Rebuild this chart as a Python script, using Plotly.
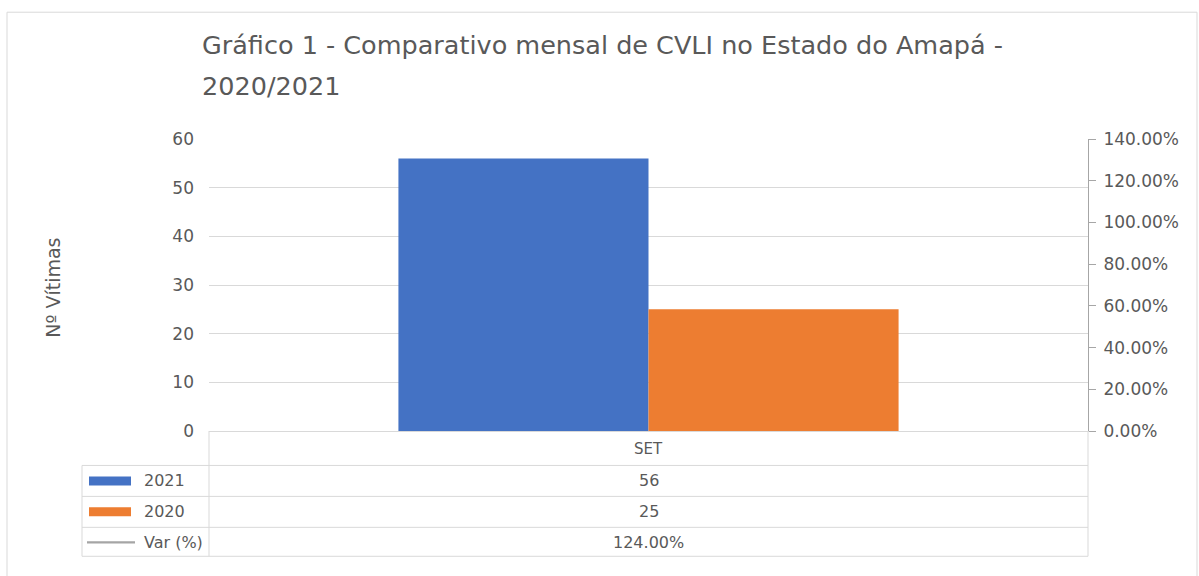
import plotly.graph_objects as go

# ---- data ----
categories = ["SET"]
series_names = ["2021", "2020", "Var (%)"]
vals_2021 = [56]
vals_2020 = [25]
var_pct = [1.24]
title_lines = ["Gráfico 1 - Comparativo mensal de CVLI no Estado do Amapá -", "2020/2021"]
y_title = "Nº Vítimas"

# ---- styling ----
W, H = 1199, 576
PX0, PX1 = 209, 1088       # plot area left/right (px)
PY0, PY1 = 139, 431.5      # plot area top/bottom (px)
BLUE, ORANGE, GRAY = "#4472C4", "#ED7D31", "#A5A5A5"
TXT = "#595959"
GRID = "#d9d9d9"
FONT = "DejaVu Sans"


def px_x(px):
    return (px - PX0) / (PX1 - PX0)


def px_y(py):
    return (PY1 - py) / (PY1 - PY0)


fig = go.Figure()
fig.add_trace(go.Bar(x=categories, y=vals_2021, name=series_names[0], marker_color=BLUE,
                     marker_line_width=0))
fig.add_trace(go.Bar(x=categories, y=vals_2020, name=series_names[1], marker_color=ORANGE,
                     marker_line_width=0))
fig.add_trace(go.Scatter(x=categories, y=var_pct, name=series_names[2], mode="lines",
                         line=dict(color=GRAY, width=2.25), yaxis="y2"))

shapes = []
annotations = []

# outer chart border
shapes.append(dict(type="rect", xref="paper", yref="paper", x0=px_x(7), x1=px_x(1197),
                   y0=px_y(590), y1=px_y(12), line=dict(color=GRID, width=1), layer="below"))

# data table lines
row_lines = [466, 497, 528, 557]
for ry in row_lines:
    shapes.append(dict(type="line", xref="paper", yref="paper", x0=px_x(82), x1=px_x(PX1),
                       y0=px_y(ry), y1=px_y(ry), line=dict(color=GRID, width=1)))
shapes.append(dict(type="line", xref="paper", yref="paper", x0=px_x(82), x1=px_x(82),
                   y0=px_y(466), y1=px_y(557), line=dict(color=GRID, width=1)))
for vx in [PX0, PX1]:
    shapes.append(dict(type="line", xref="paper", yref="paper", x0=px_x(vx), x1=px_x(vx),
                       y0=px_y(PY1), y1=px_y(557), line=dict(color=GRID, width=1)))

# legend keys in table
row_centers = [481.5, 512.5, 543]
key_colors = [BLUE, ORANGE]
for i, c in enumerate(key_colors):
    cy = row_centers[i]
    shapes.append(dict(type="rect", xref="paper", yref="paper", x0=px_x(89), x1=px_x(131),
                       y0=px_y(cy + 4.5), y1=px_y(cy - 4.5), fillcolor=c, line=dict(width=0)))
shapes.append(dict(type="line", xref="paper", yref="paper", x0=px_x(87), x1=px_x(135),
                   y0=px_y(row_centers[2]), y1=px_y(row_centers[2]),
                   line=dict(color=GRAY, width=2.25)))
for i, name in enumerate(series_names):
    annotations.append(dict(text=name, xref="paper", yref="paper", x=px_x(142), y=px_y(row_centers[i]),
                            xanchor="left", yanchor="middle", showarrow=False,
                            font=dict(family=FONT, size=16, color=TXT)))

# table values
table_texts = [
    [str(v) for v in vals_2021],
    [str(v) for v in vals_2020],
    [f"{v * 100:.2f}%" for v in var_pct],
]
for j, cat in enumerate(categories):
    annotations.append(dict(text=cat, xref="x", yref="paper", x=cat, y=px_y(449.5),
                            xanchor="center", yanchor="middle", showarrow=False,
                            font=dict(family=FONT, size=15, color=TXT)))
    for i, row in enumerate(table_texts):
        annotations.append(dict(text=row[j], xref="x", yref="paper", x=cat, y=px_y(row_centers[i]),
                                xanchor="center", yanchor="middle", showarrow=False,
                                font=dict(family=FONT, size=16, color=TXT)))

# title (two lines)
title_y = [45, 86]
for t, ty in zip(title_lines, title_y):
    annotations.append(dict(text=t, xref="paper", yref="paper", x=px_x(200), y=px_y(ty),
                            xanchor="left", yanchor="middle", showarrow=False,
                            font=dict(family=FONT, size=25.5, color=TXT)))

# y axis title
annotations.append(dict(text=y_title, xref="paper", yref="paper", x=px_x(53), y=px_y(288),
                        xanchor="center", yanchor="middle", showarrow=False, textangle=-90,
                        font=dict(family=FONT, size=19, color=TXT)))

fig.update_layout(
    width=W, height=H,
    margin=dict(l=PX0, r=W - PX1, t=PY0, b=H - PY1, autoexpand=False),
    paper_bgcolor="white", plot_bgcolor="white",
    barmode="group", bargap=0.431, bargroupgap=0,
    showlegend=False,
    font=dict(family=FONT, color=TXT),
    xaxis=dict(showticklabels=False, showline=True, linecolor=GRID, linewidth=1,
               showgrid=False, zeroline=False, ticks=""),
    yaxis=dict(range=[0, 60], dtick=10, showgrid=True, gridcolor=GRID, gridwidth=1,
               zeroline=False, showline=False, ticks="",
               tickfont=dict(family=FONT, size=17, color=TXT), ticklabelstandoff=14),
    yaxis2=dict(range=[0, 1.4], dtick=0.2, tickformat=".2%", overlaying="y", side="right",
                showgrid=False, zeroline=False, showline=True, linecolor="#a6a6a6", linewidth=1,
                ticks="outside", ticklen=7, tickcolor="#a6a6a6", ticklabelstandoff=4,
                tickfont=dict(family=FONT, size=17, color=TXT)),
    shapes=shapes,
    annotations=annotations,
)

fig.write_html("out.html", config={"displayModeBar": False},
               post_script="document.body.style.margin='0';document.body.style.overflow='hidden';")
